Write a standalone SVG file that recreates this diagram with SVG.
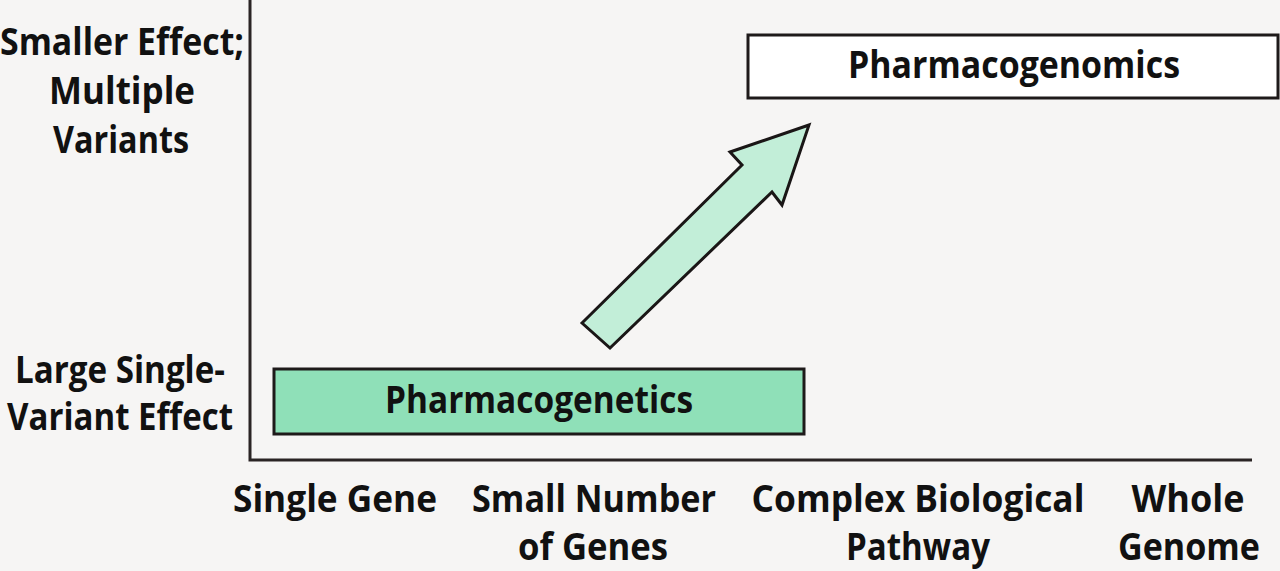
<svg xmlns="http://www.w3.org/2000/svg" width="1280" height="571" viewBox="0 0 1280 571">
<style>
.t{font-family:"Open Sans","Noto Sans",sans-serif;font-weight:bold;font-size:37px;fill:#111;text-anchor:middle}
.axis{stroke:#2a2424;stroke-width:3;fill:none}
.box{stroke:#1e1a1a;stroke-width:3}
</style>
<rect width="1280" height="571" fill="#f6f5f4"/>
<g id="axes" class="axis">
<path d="M250,0 V460 H1252"/>
</g>
<g id="y-labels">
<text class="t" x="122" y="55" textLength="244" lengthAdjust="spacingAndGlyphs">Smaller Effect;</text>
<text class="t" x="122" y="104" textLength="146" lengthAdjust="spacingAndGlyphs">Multiple</text>
<text class="t" x="121" y="153" textLength="136" lengthAdjust="spacingAndGlyphs">Variants</text>
<text class="t" x="120" y="383" textLength="210" lengthAdjust="spacingAndGlyphs">Large Single-</text>
<text class="t" x="120" y="430" textLength="226" lengthAdjust="spacingAndGlyphs">Variant Effect</text>
</g>
<g id="x-labels">
<text class="t" x="335" y="512" textLength="204" lengthAdjust="spacingAndGlyphs">Single Gene</text>
<text class="t" x="594" y="512" textLength="244" lengthAdjust="spacingAndGlyphs">Small Number</text>
<text class="t" x="593" y="560" textLength="150" lengthAdjust="spacingAndGlyphs">of Genes</text>
<text class="t" x="918" y="512" textLength="333" lengthAdjust="spacingAndGlyphs">Complex Biological</text>
<text class="t" x="918" y="560" textLength="144" lengthAdjust="spacingAndGlyphs">Pathway</text>
<text class="t" x="1188" y="512" textLength="113" lengthAdjust="spacingAndGlyphs">Whole</text>
<text class="t" x="1189" y="560" textLength="142" lengthAdjust="spacingAndGlyphs">Genome</text>
</g>
<g id="pharmacogenomics">
<rect class="box" x="748" y="35" width="530" height="63" fill="#ffffff"/>
<text class="t" x="1014" y="78" textLength="332" lengthAdjust="spacingAndGlyphs">Pharmacogenomics</text>
</g>
<g id="pharmacogenetics">
<rect class="box" x="274" y="369" width="530" height="65" fill="#8fe0b8"/>
<text class="t" x="539" y="413" textLength="308" lengthAdjust="spacingAndGlyphs">Pharmacogenetics</text>
</g>
<g id="connectors">
<path d="M582,323 L742,165 L730,152 L809,125 L782,205 L772,192 L610,348 Z" fill="#c2eed8" stroke="#1a1616" stroke-width="3" stroke-linejoin="miter"/>
</g>
</svg>
